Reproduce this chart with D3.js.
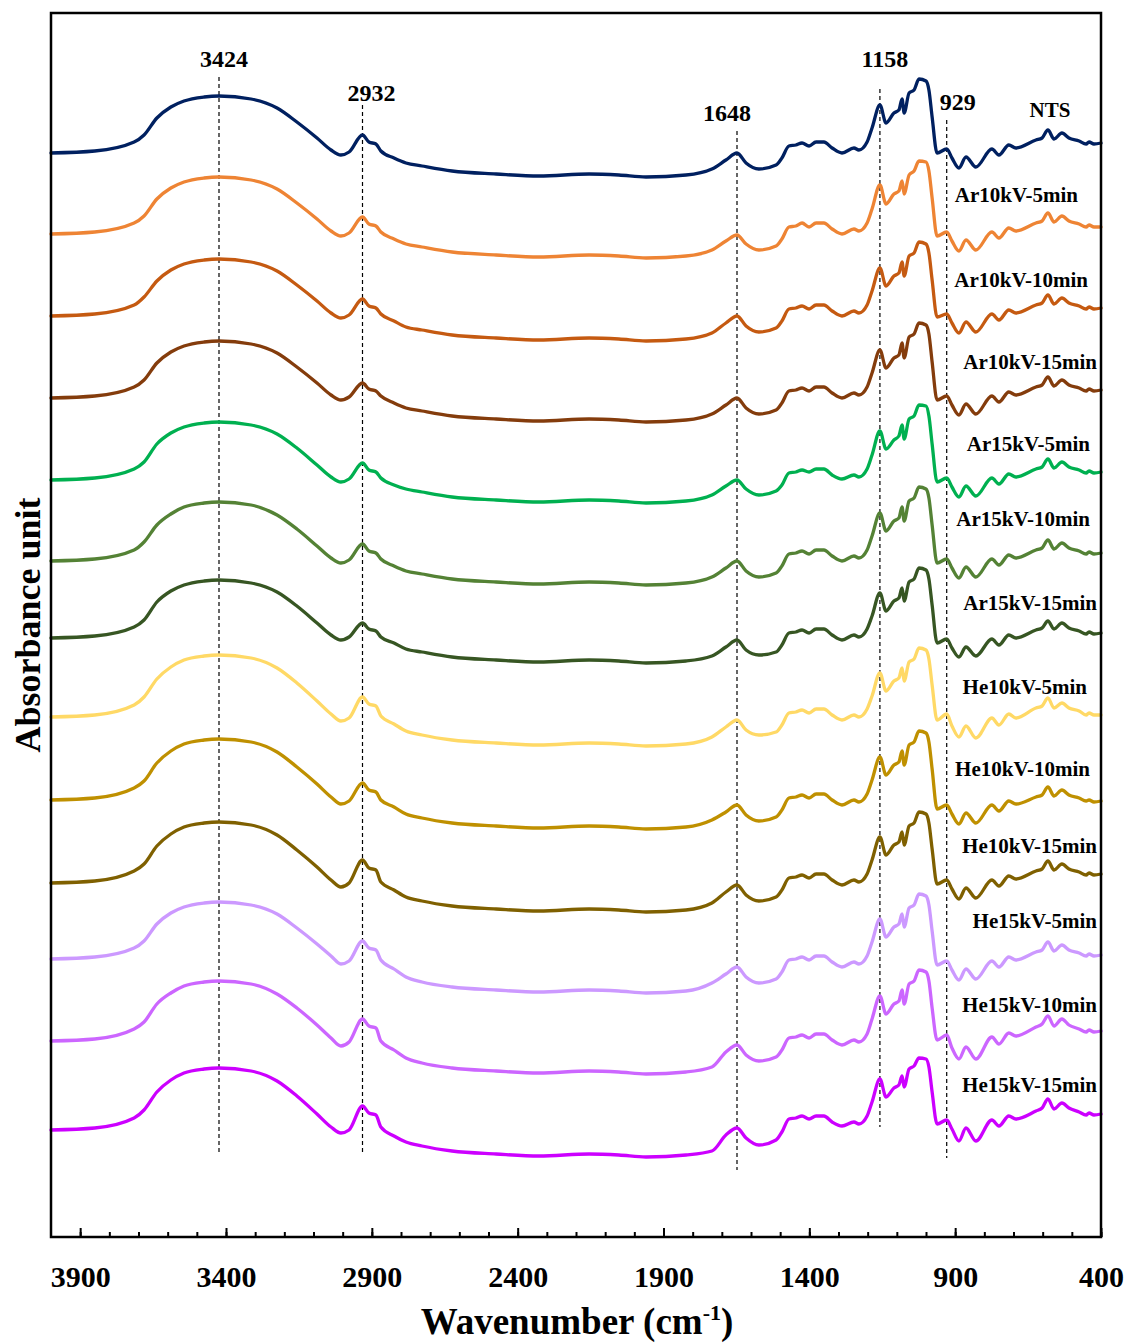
<!DOCTYPE html>
<html>
<head>
<meta charset="utf-8">
<script src="https://cdn.jsdelivr.net/npm/d3@7"></script>
<style>
  html, body { margin: 0; padding: 0; background: #fff; }
  text { font-family: "Liberation Serif", "Times New Roman", serif; font-weight: bold; fill: #000; }
</style>
</head>
<body>
<svg id="chart" width="1127" height="1343"></svg>
<script>
// FTIR spectra, wavenumber grid shared by every sample (cm-1, descending)
const wavenumbers = [
  4000,3850,3715,3681,3637,3589,3544,3475,3424,3314,
  3225,3157,3088,3040,3006,2978,2932,2910,2886,2869,
  2824,2783,2728,2625,2474,2327,2155,2053,1960,1823,
  1734,1686,1648,1617,1573,1514,1494,1470,1446,1425,
  1401,1377,1350,1322,1288,1247,1230,1202,1185,1158,
  1137,1110,1093,1082,1075,1058,1041,1024,1000,990,
  979,962,929,911,887,863,829,774,750,716,
  692,623,602,582,561,534,510,475,451,441,
  424,400
];

// Absorbance (a.u.) of each sample on the grid above
const NTS = [
  0.27,0.29,0.38,0.45,0.62,0.73,0.79,0.83,0.84,0.81,
  0.72,0.58,0.42,0.30,0.25,0.28,0.45,0.38,0.36,0.29,
  0.22,0.17,0.14,0.09,0.06,0.04,0.06,0.05,0.03,0.05,
  0.11,0.20,0.27,0.17,0.11,0.15,0.22,0.34,0.35,0.37,
  0.34,0.38,0.38,0.32,0.27,0.32,0.30,0.38,0.52,0.75,
  0.57,0.67,0.70,0.81,0.67,0.87,0.90,1.01,0.99,0.90,
  0.63,0.27,0.31,0.22,0.12,0.23,0.13,0.31,0.25,0.35,
  0.32,0.40,0.42,0.50,0.41,0.47,0.42,0.39,0.36,0.38,
  0.36,0.37
];
const Ar10kV_5min = [
  0.27,0.29,0.38,0.45,0.62,0.73,0.79,0.83,0.84,0.81,
  0.72,0.58,0.42,0.30,0.25,0.28,0.44,0.37,0.35,0.29,
  0.22,0.17,0.14,0.09,0.06,0.04,0.06,0.05,0.03,0.05,
  0.11,0.20,0.26,0.17,0.11,0.15,0.22,0.34,0.35,0.38,
  0.34,0.38,0.38,0.32,0.27,0.32,0.30,0.38,0.52,0.76,
  0.57,0.67,0.70,0.80,0.67,0.86,0.90,1.00,0.99,0.90,
  0.63,0.25,0.29,0.20,0.10,0.21,0.11,0.29,0.23,0.33,
  0.30,0.38,0.40,0.48,0.39,0.45,0.40,0.37,0.34,0.36,
  0.34,0.34
];
const Ar10kV_10min = [
  0.27,0.29,0.38,0.46,0.62,0.73,0.79,0.83,0.84,0.81,
  0.72,0.58,0.42,0.30,0.25,0.28,0.44,0.37,0.35,0.29,
  0.22,0.16,0.13,0.08,0.05,0.03,0.05,0.04,0.02,0.04,
  0.10,0.20,0.27,0.17,0.11,0.15,0.22,0.34,0.35,0.37,
  0.34,0.38,0.38,0.32,0.27,0.32,0.30,0.38,0.52,0.75,
  0.57,0.67,0.70,0.81,0.67,0.87,0.90,1.01,0.99,0.90,
  0.63,0.26,0.29,0.20,0.10,0.21,0.11,0.29,0.23,0.33,
  0.30,0.38,0.40,0.48,0.39,0.45,0.40,0.37,0.34,0.36,
  0.34,0.35
];
const Ar10kV_15min = [
  0.27,0.29,0.38,0.45,0.62,0.73,0.79,0.83,0.84,0.81,
  0.72,0.58,0.42,0.30,0.25,0.28,0.42,0.36,0.34,0.29,
  0.22,0.17,0.14,0.09,0.06,0.04,0.06,0.05,0.03,0.05,
  0.11,0.20,0.27,0.17,0.11,0.15,0.22,0.34,0.35,0.37,
  0.34,0.38,0.38,0.32,0.27,0.32,0.30,0.38,0.52,0.75,
  0.57,0.67,0.70,0.82,0.67,0.88,0.91,1.02,1.00,0.91,
  0.63,0.25,0.29,0.20,0.10,0.21,0.11,0.29,0.23,0.33,
  0.30,0.38,0.40,0.48,0.39,0.45,0.40,0.37,0.34,0.36,
  0.34,0.35
];
const Ar15kV_5min = [
  0.27,0.29,0.38,0.45,0.63,0.74,0.80,0.84,0.85,0.82,
  0.73,0.59,0.42,0.30,0.25,0.28,0.44,0.37,0.35,0.29,
  0.22,0.18,0.15,0.10,0.07,0.05,0.07,0.06,0.04,0.06,
  0.12,0.21,0.27,0.18,0.12,0.16,0.22,0.34,0.35,0.37,
  0.35,0.38,0.38,0.32,0.28,0.32,0.30,0.38,0.52,0.76,
  0.58,0.67,0.71,0.82,0.68,0.88,0.91,1.02,1.01,0.91,
  0.63,0.25,0.29,0.20,0.10,0.21,0.11,0.29,0.23,0.33,
  0.30,0.38,0.40,0.48,0.39,0.45,0.40,0.37,0.34,0.36,
  0.34,0.35
];
const Ar15kV_10min = [
  0.27,0.29,0.38,0.46,0.63,0.74,0.81,0.85,0.86,0.83,
  0.73,0.59,0.42,0.30,0.25,0.28,0.44,0.37,0.35,0.29,
  0.22,0.17,0.14,0.09,0.06,0.04,0.06,0.05,0.03,0.05,
  0.11,0.20,0.27,0.17,0.11,0.15,0.22,0.34,0.35,0.37,
  0.34,0.38,0.38,0.32,0.27,0.32,0.30,0.38,0.52,0.75,
  0.57,0.67,0.70,0.81,0.67,0.87,0.90,1.01,0.99,0.90,
  0.63,0.25,0.29,0.20,0.10,0.21,0.11,0.29,0.23,0.33,
  0.30,0.38,0.40,0.48,0.39,0.45,0.40,0.37,0.34,0.36,
  0.34,0.35
];
const Ar15kV_15min = [
  0.27,0.29,0.38,0.45,0.63,0.74,0.80,0.84,0.85,0.82,
  0.73,0.59,0.42,0.30,0.25,0.28,0.42,0.36,0.34,0.28,
  0.22,0.16,0.13,0.08,0.05,0.03,0.05,0.04,0.02,0.04,
  0.09,0.18,0.25,0.15,0.10,0.13,0.20,0.32,0.33,0.35,
  0.32,0.36,0.36,0.30,0.25,0.30,0.28,0.36,0.49,0.72,
  0.54,0.64,0.67,0.77,0.64,0.83,0.86,0.97,0.95,0.86,
  0.60,0.22,0.26,0.17,0.08,0.18,0.09,0.26,0.20,0.30,
  0.27,0.35,0.37,0.44,0.36,0.42,0.37,0.34,0.31,0.33,
  0.31,0.32
];
const He10kV_5min = [
  0.27,0.29,0.39,0.47,0.65,0.77,0.84,0.88,0.89,0.86,
  0.76,0.61,0.43,0.30,0.23,0.26,0.47,0.40,0.38,0.28,
  0.20,0.13,0.09,0.04,0.01,-0.01,0.01,0.00,-0.02,0.00,
  0.07,0.17,0.24,0.14,0.09,0.12,0.19,0.31,0.32,0.34,
  0.31,0.35,0.35,0.29,0.24,0.29,0.27,0.35,0.48,0.71,
  0.53,0.63,0.66,0.76,0.63,0.82,0.85,0.96,0.94,0.85,
  0.59,0.24,0.30,0.18,0.07,0.18,0.06,0.26,0.19,0.30,
  0.26,0.36,0.38,0.46,0.36,0.41,0.36,0.33,0.29,0.31,
  0.29,0.29
];
const He10kV_10min = [
  0.27,0.29,0.39,0.46,0.64,0.76,0.83,0.87,0.88,0.85,
  0.75,0.60,0.43,0.30,0.23,0.26,0.44,0.37,0.35,0.27,
  0.20,0.13,0.09,0.04,0.01,-0.01,0.01,0.00,-0.02,0.00,
  0.07,0.15,0.22,0.12,0.06,0.10,0.17,0.29,0.30,0.32,
  0.29,0.33,0.33,0.27,0.22,0.27,0.25,0.33,0.47,0.70,
  0.52,0.62,0.65,0.76,0.62,0.82,0.85,0.96,0.94,0.85,
  0.58,0.18,0.22,0.13,0.03,0.14,0.04,0.22,0.16,0.26,
  0.23,0.30,0.32,0.40,0.31,0.37,0.32,0.29,0.26,0.27,
  0.25,0.26
];
const He10kV_15min = [
  0.27,0.29,0.39,0.46,0.64,0.76,0.83,0.87,0.88,0.85,
  0.75,0.60,0.43,0.30,0.23,0.27,0.50,0.42,0.40,0.28,
  0.20,0.13,0.09,0.04,0.01,-0.01,0.01,0.00,-0.02,0.00,
  0.07,0.18,0.25,0.15,0.09,0.13,0.20,0.32,0.33,0.35,
  0.32,0.36,0.36,0.30,0.25,0.30,0.28,0.36,0.50,0.73,
  0.55,0.65,0.68,0.78,0.65,0.84,0.87,0.98,0.96,0.87,
  0.61,0.26,0.30,0.21,0.11,0.22,0.12,0.30,0.24,0.34,
  0.31,0.39,0.41,0.49,0.40,0.46,0.41,0.38,0.35,0.37,
  0.35,0.36
];
const He15kV_5min = [
  0.27,0.29,0.38,0.45,0.62,0.73,0.79,0.83,0.84,0.81,
  0.72,0.58,0.42,0.30,0.22,0.25,0.45,0.38,0.36,0.26,
  0.17,0.09,0.04,-0.01,-0.04,-0.06,-0.04,-0.05,-0.07,-0.05,
  0.03,0.12,0.19,0.09,0.03,0.07,0.14,0.26,0.27,0.29,
  0.26,0.30,0.30,0.24,0.19,0.24,0.22,0.30,0.44,0.67,
  0.49,0.59,0.62,0.72,0.59,0.78,0.81,0.92,0.90,0.81,
  0.55,0.21,0.25,0.16,0.06,0.17,0.07,0.25,0.19,0.29,
  0.26,0.34,0.36,0.44,0.35,0.41,0.36,0.33,0.30,0.32,
  0.30,0.31
];
const He15kV_10min = [
  0.27,0.29,0.39,0.46,0.64,0.75,0.82,0.86,0.87,0.84,
  0.74,0.60,0.43,0.30,0.22,0.26,0.49,0.42,0.40,0.27,
  0.18,0.10,0.05,0.00,-0.03,-0.05,-0.03,-0.04,-0.06,-0.04,
  0.01,0.16,0.23,0.13,0.07,0.11,0.18,0.30,0.31,0.33,
  0.30,0.34,0.34,0.28,0.23,0.28,0.26,0.34,0.49,0.72,
  0.54,0.64,0.67,0.78,0.64,0.84,0.87,0.98,0.96,0.87,
  0.60,0.28,0.33,0.20,0.09,0.21,0.09,0.31,0.24,0.35,
  0.32,0.41,0.44,0.52,0.42,0.49,0.43,0.39,0.36,0.38,
  0.36,0.37
];
const He15kV_15min = [
  0.27,0.29,0.39,0.47,0.65,0.77,0.84,0.88,0.89,0.86,
  0.76,0.61,0.43,0.30,0.24,0.27,0.51,0.44,0.42,0.30,
  0.21,0.15,0.11,0.06,0.03,0.01,0.03,0.02,0.00,0.02,
  0.06,0.22,0.29,0.19,0.12,0.17,0.25,0.38,0.39,0.41,
  0.38,0.41,0.41,0.35,0.31,0.35,0.33,0.41,0.55,0.78,
  0.60,0.69,0.72,0.81,0.70,0.88,0.91,0.99,0.98,0.90,
  0.65,0.33,0.37,0.28,0.16,0.29,0.16,0.37,0.31,0.41,
  0.38,0.46,0.49,0.58,0.48,0.54,0.49,0.45,0.42,0.44,
  0.42,0.43
];

// Sample names, top to bottom
const sampleNames = [
  "NTS","Ar10kV-5min","Ar10kV-10min","Ar10kV-15min",
  "Ar15kV-5min","Ar15kV-10min","Ar15kV-15min",
  "He10kV-5min","He10kV-10min","He10kV-15min",
  "He15kV-5min","He15kV-10min","He15kV-15min"
];
const sampleSpectra = [
  NTS, Ar10kV_5min, Ar10kV_10min, Ar10kV_15min,
  Ar15kV_5min, Ar15kV_10min, Ar15kV_15min,
  He10kV_5min, He10kV_10min, He10kV_15min,
  He15kV_5min, He15kV_10min, He15kV_15min
];
// Vertical stacking offset of each spectrum (a.u.)
const stackOffsets = [10.57, 9.76, 8.94, 8.12, 7.30, 6.49, 5.72, 4.93, 4.10, 3.27, 2.51, 1.69, 0.80];

// Marked band positions (cm-1)
const bandPositions = [3424, 2932, 1648, 1158, 929];

// X axis ticks
const majorTicks = [3900, 3400, 2900, 2400, 1900, 1400, 900, 400];
const minorTicks = d3.range(3900, 399, -100);

// ---- styling / layout ----
const lineColors = [
  "#002060", "#EE8434", "#C55A11", "#843C0C",
  "#00B050", "#548235", "#375623",
  "#FFD966", "#BF9000", "#7F6000",
  "#CC99FF", "#CC66FF", "#CC00FF"
];
// anchor x, baseline y and anchoring of each sample label
const labelPos = [
  [1050, 117, "middle"], [1078, 202, "end"], [1088, 287, "end"], [1097, 369, "end"],
  [1090, 451, "end"], [1090, 526, "end"], [1097, 610, "end"],
  [1087, 694, "end"], [1090, 776, "end"], [1097, 853, "end"],
  [1097, 928, "end"], [1097, 1012, "end"], [1097, 1092, "end"]
];
// dashed guide: [top y, bottom y, label baseline y, label dx]
const bandGuide = [
  [77, 1152, 67, 5],
  [105, 1155, 101, 9],
  [131, 1170, 121, -10],
  [89, 1127, 67, 5],
  [120, 1158, 110, 11]
];

const margin = { left: 51, right: 1101, top: 13, bottom: 1237 };
const svg = d3.select("#chart");

svg.append("rect").attr("width", 1127).attr("height", 1343).attr("fill", "#fff");

const x = d3.scaleLinear().domain([4000, 400]).range([margin.left, margin.right]);
const y = d3.scaleLinear().domain([0, 12.24]).range([margin.bottom, margin.top]);

// dashed guides for the marked bands
const guides = svg.append("g");
bandPositions.forEach((wn, i) => {
  const g = bandGuide[i];
  guides.append("line")
    .attr("x1", x(wn)).attr("x2", x(wn))
    .attr("y1", g[0]).attr("y2", g[1])
    .attr("stroke", "#000").attr("stroke-width", 1.2)
    .attr("stroke-dasharray", "4,3");
  guides.append("text")
    .attr("x", x(wn) + g[3]).attr("y", g[2])
    .attr("text-anchor", "middle")
    .attr("font-size", 24)
    .text(wn);
});

// spectra
const lines = svg.append("g");
sampleSpectra.forEach((vals, i) => {
  const off = stackOffsets[i];
  const line = d3.line()
    .x((d, j) => x(wavenumbers[j]))
    .y(d => y(d + off))
    .curve(d3.curveMonotoneX);
  lines.append("path")
    .attr("d", line(vals))
    .attr("fill", "none")
    .attr("stroke", lineColors[i])
    .attr("stroke-width", 3.3)
    .attr("stroke-linejoin", "round")
    .attr("stroke-linecap", "round");
});

// sample labels
const labels = svg.append("g");
sampleNames.forEach((name, i) => {
  const p = labelPos[i];
  labels.append("text")
    .attr("x", p[0]).attr("y", p[1])
    .attr("text-anchor", p[2])
    .attr("font-size", i === 0 ? 21 : 21)
    .text(name);
});

// frame
svg.append("rect")
  .attr("x", margin.left).attr("y", margin.top)
  .attr("width", margin.right - margin.left)
  .attr("height", margin.bottom - margin.top)
  .attr("fill", "none").attr("stroke", "#000").attr("stroke-width", 2.5);

// bottom axis: minor and major ticks pointing inward
const minorAxis = d3.axisBottom(x).tickValues(minorTicks).tickSize(-5).tickFormat("");
const gMinor = svg.append("g").attr("transform", `translate(0,${margin.bottom})`).call(minorAxis);
gMinor.select(".domain").remove();
gMinor.selectAll(".tick line").attr("stroke", "#000").attr("stroke-width", 2);

const majorAxis = d3.axisBottom(x).tickValues(majorTicks).tickSize(-9).tickPadding(29).tickFormat(d3.format("d"));
const gMajor = svg.append("g").attr("transform", `translate(0,${margin.bottom})`).call(majorAxis);
gMajor.select(".domain").remove();
gMajor.selectAll(".tick line").attr("stroke", "#000").attr("stroke-width", 2);
gMajor.selectAll(".tick text")
  .attr("font-family", "'Liberation Serif','Times New Roman',serif")
  .attr("font-weight", "bold")
  .attr("font-size", 30)
  .attr("fill", "#000");

// axis titles
const xt = svg.append("text")
  .attr("x", 577).attr("y", 1334)
  .attr("text-anchor", "middle")
  .attr("font-size", 37);
xt.append("tspan").text("Wavenumber (cm");
xt.append("tspan").attr("font-size", 22).attr("dy", -14).text("-1");
xt.append("tspan").attr("dy", 14).text(")");

svg.append("text")
  .attr("transform", "translate(40,625) rotate(-90)")
  .attr("text-anchor", "middle")
  .attr("font-size", 36)
  .text("Absorbance unit");
</script>
</body>
</html>
